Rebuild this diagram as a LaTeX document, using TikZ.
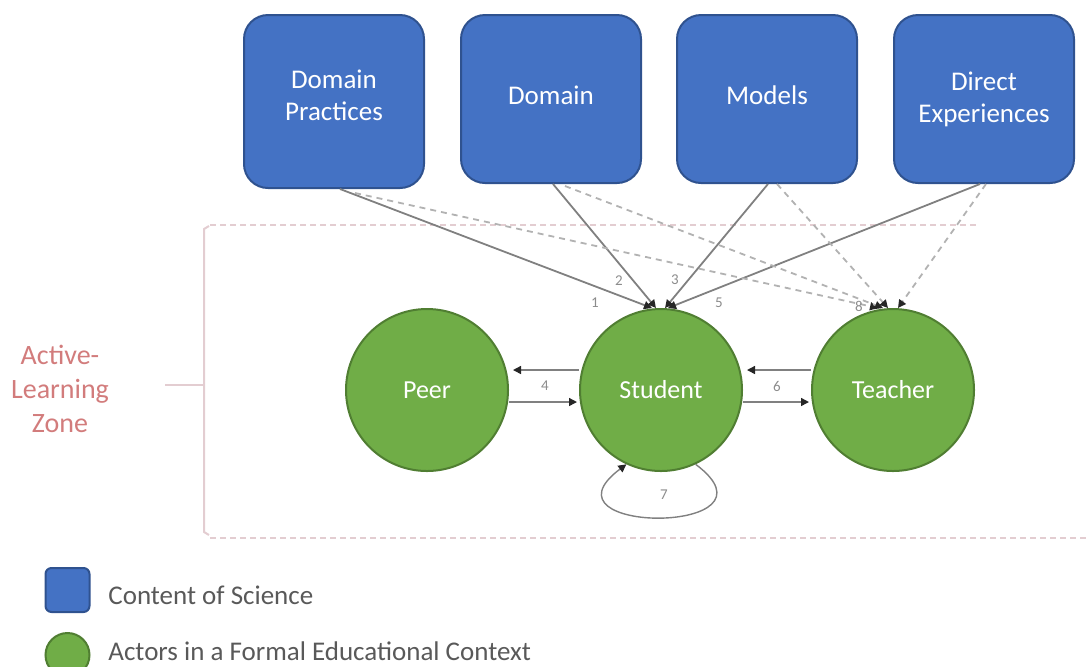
\documentclass[tikz,border=0pt]{standalone}
\usepackage{fontspec}
\setmainfont{Carlito}
\usetikzlibrary{arrows.meta}
\definecolor{boxblue}{HTML}{4472C4}
\definecolor{boxedge}{HTML}{2F528F}
\definecolor{actgreen}{HTML}{70AD47}
\definecolor{actedge}{HTML}{507E32}
\definecolor{zonered}{HTML}{D27C7C}
\definecolor{zoneline}{HTML}{E3CDD1}

\begin{document}
\begin{tikzpicture}[x=0.5pt,y=-0.5pt,
    content/.style={draw=boxedge,line width=1pt,fill=boxblue,rounded corners=12pt,
        minimum width=90pt,minimum height=84pt,inner sep=0pt,text=white,align=center,
        font=\fontsize{13.5}{16}\selectfont},
    actor/.style={circle,draw=actedge,line width=1pt,fill=actgreen,minimum size=81pt,
        inner sep=0pt,text=white,font=\fontsize{13}{16}\selectfont},
    tip/.style={-{Triangle[length=4pt,width=4pt,color=black!85]}},
    solidlink/.style={tip,draw=black!50,line width=0.9pt},
    dashlink/.style={tip,draw=black!30,line width=0.9pt,dash pattern=on 3pt off 2.5pt},
    num/.style={font=\fontsize{7.5}{8}\selectfont,text=black!45,inner sep=1pt},
    legend/.style={font=\fontsize{13.5}{16}\selectfont,text=black!65,anchor=west,inner sep=0pt}]
    \useasboundingbox (0,0) rectangle (1086,666);

    \node[content,minimum height=86.5pt] (dp) at (334,101.5) {Domain\\Practices\\[-10pt]\mbox{}};
    \node[content] (dom) at (551,99) {Domain\\[-12pt]\mbox{}};
    \node[content] (mod) at (767,99) {Models\\[-12pt]\mbox{}};
    \node[content] (dex) at (984,99) {Direct\\Experiences\\[-14pt]\mbox{}};

    \node[actor] (peer) at (427,390) {Peer};
    \node[actor] (st) at (661,390) {Student};
    \node[actor] (tea) at (893,390) {Teacher};

    % active-learning zone
    \draw[zoneline,line width=1pt] (209,226) -- (204,229) -- (204,532) -- (209,535);
    \draw[zoneline,line width=1pt] (165,385) -- (204,385);
    \draw[zoneline,line width=1pt,dash pattern=on 3pt off 2pt] (210,225) -- (977,225);
    \draw[zoneline,line width=1pt,dash pattern=on 3pt off 2pt] (210,538) -- (1086,538);
    \node[text=zonered,align=center,font=\fontsize{14}{17}\selectfont] (zone) at (60,389) {Active-\\Learning\\Zone};

    \draw[solidlink] ([xshift=3pt]dp.south) -- ([xshift=-4.5pt]st.north);
    \draw[solidlink] ([xshift=1pt]dom.south) -- ([xshift=-2.5pt]st.north);
    \draw[solidlink] ([xshift=0.5pt]mod.south) -- ([xshift=2pt]st.north);
    \draw[solidlink] ([xshift=-2pt]dex.south) -- ([xshift=3.5pt]st.north);

    \draw[dashlink] ([xshift=10.5pt,yshift=-2pt]dp.south) -- ([xshift=-7.5pt]tea.north);
    \draw[dashlink] ([xshift=7pt,yshift=-1pt]dom.south) -- ([xshift=-5pt]tea.north);
    \draw[dashlink] ([xshift=5pt]mod.south) -- ([xshift=-2.5pt]tea.north);
    \draw[dashlink] ([xshift=1pt]dex.south) -- ([xshift=2.5pt]tea.north);

    \node[num] (n1) at (595,303) {1};
    \node[num] (n2) at (619,281) {2};
    \node[num] (n3) at (675,280) {3};
    \node[num] (n5) at (719,303) {5};
    \node[num] (n8) at (859,306) {8};

    \draw[solidlink,line width=0.7pt] ([yshift=10pt]st.west) -- ([yshift=10pt,xshift=2pt]peer.east);
    \draw[solidlink,line width=0.7pt] ([yshift=-6pt]peer.east) -- ([yshift=-6pt,xshift=-1pt]st.west);
    \node[num] (n4) at (545,386) {4};
    \draw[solidlink,line width=0.7pt] ([yshift=10pt]tea.west) -- ([yshift=10pt,xshift=2pt]st.east);
    \draw[solidlink,line width=0.7pt] ([yshift=-6pt]st.east) -- ([yshift=-6pt,xshift=-1pt]tea.west);
    \node[num] (n6) at (777,386) {6};

    \draw[solidlink,line width=0.7pt] (st.-65) .. controls +(95,71) and +(-95,71) .. (st.-115);
    \node[num] (n7) at (664,495) {7};

    % legend
    \node[draw=boxedge,line width=1pt,fill=boxblue,rounded corners=3pt,minimum size=22pt,inner sep=0pt] (keybox) at (67.5,590) {};
    \node[legend] (keytxt1) at (108,595) {Content of Science};
    \node[circle,draw=actedge,line width=1pt,fill=actgreen,minimum size=22pt,inner sep=0pt] (keyact) at (67.5,655) {};
    \node[legend] (keytxt2) at (108,651) {Actors in a Formal Educational Context};
\end{tikzpicture}
\end{document}
